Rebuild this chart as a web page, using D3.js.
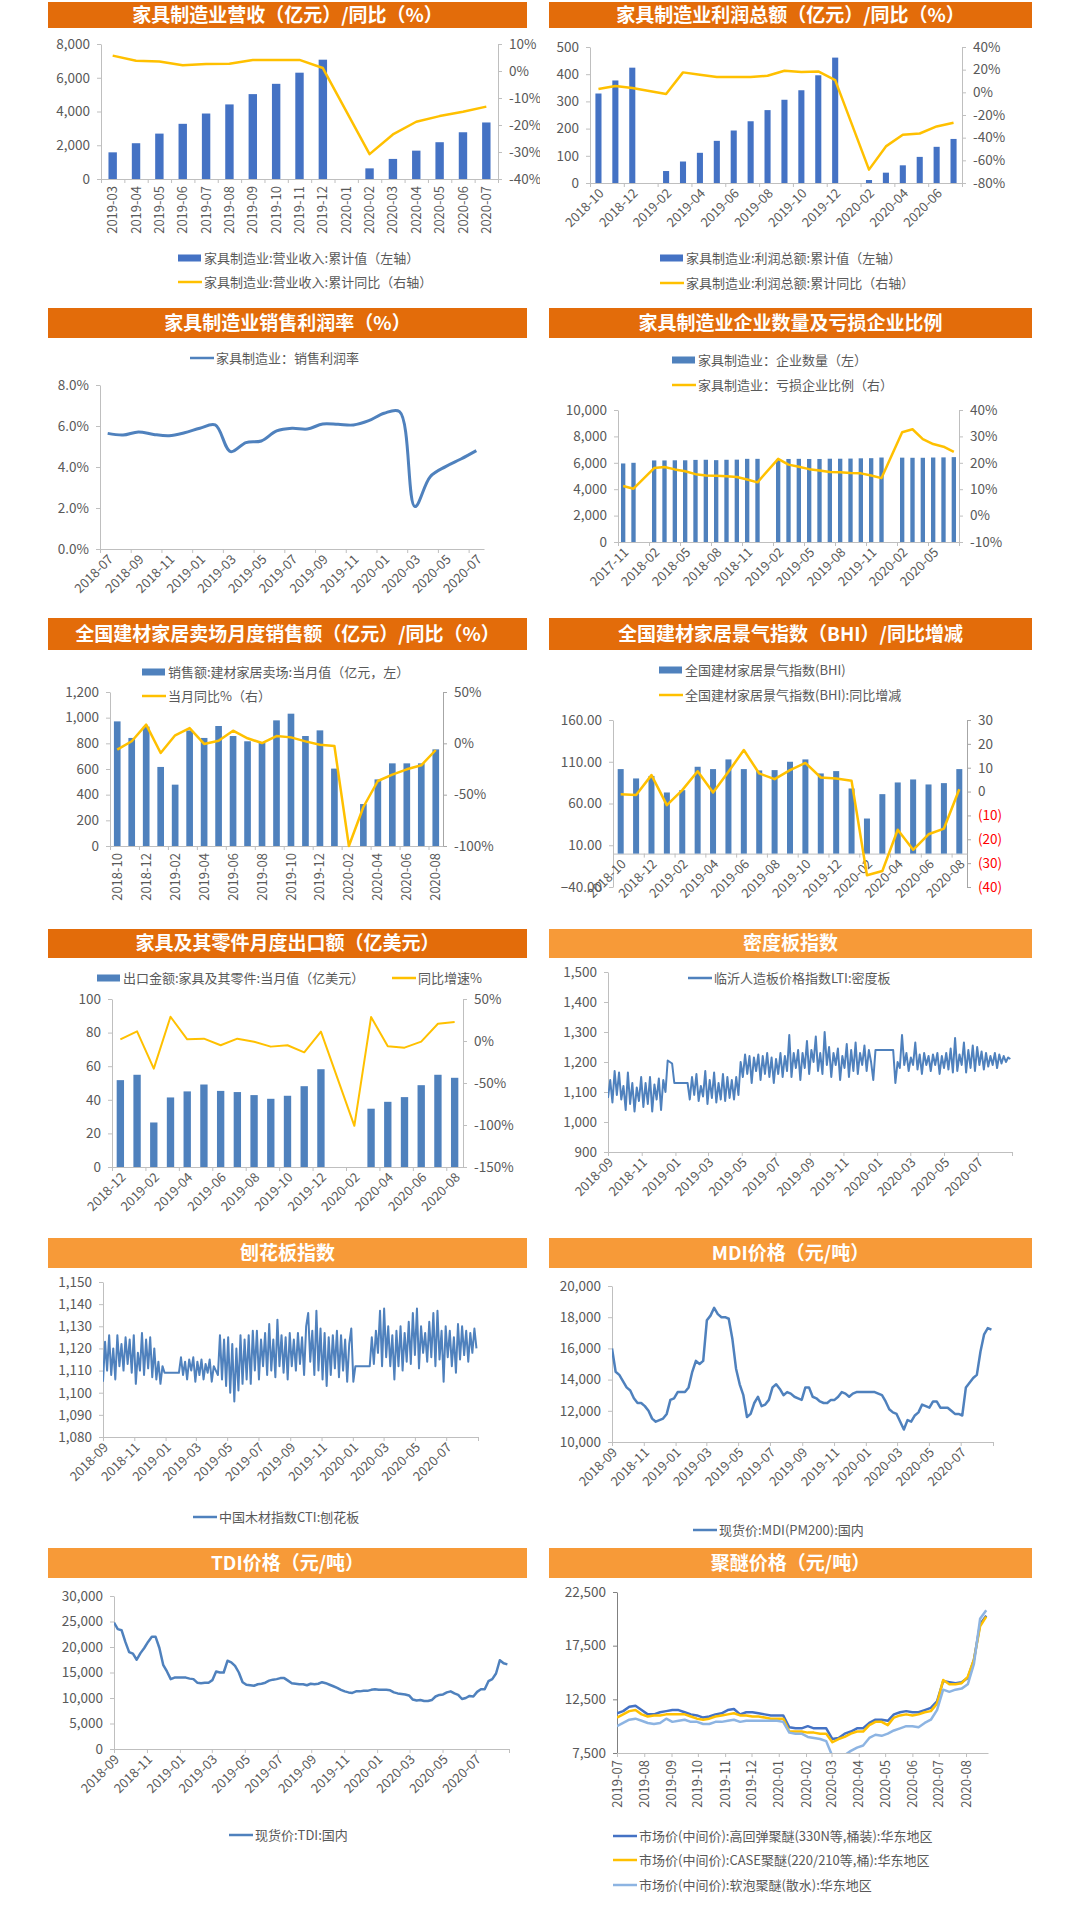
<!DOCTYPE html>
<html>
<head>
<meta charset="utf-8">
<script src="https://cdn.jsdelivr.net/npm/d3@7"></script>
<style>
  body { margin: 0; background: #fff; }
  svg text { font-family: "Noto Sans CJK SC", "Noto Sans", sans-serif; }
</style>
</head>
<body>
<svg id="chart" width="1080" height="1916"></svg>
<script>
// ---------- data ----------
function months(start, n) {
  const d0 = d3.timeParse('%Y-%m')(start);
  return d3.range(n).map(i => d3.timeFormat('%Y-%m')(d3.timeMonth.offset(d0, i)));
}

const revCats = months('2019-03', 17);
const revValue = [1580, 2120, 2690, 3270, 3880, 4420, 5030, 5640, 6300, 7070, null, 630, 1190, 1680, 2180, 2770, 3350];
const revYoY = [5.7, 3.8, 3.5, 2.1, 2.6, 2.7, 4.1, 4.1, 4.1, 1.1, null, -30.8, -23.5, -18.8, -16.7, -15.1, -13.2];

const profCats = months('2018-10', 22);
const profValue = [329, 377, 424, null, 44, 79, 111, 155, 193, 227, 268, 306, 341, 396, 461, null, 11, 38, 65, 96, 133, 162];
const profYoY = [2.9, 5.6, 3.8, null, -1.5, 17.6, 15.5, 13.5, 13.5, 13.5, 14.6, 19, 17.9, 18.4, 10.8, null, -68.2, -47.7, -37.5, -36.3, -30.1, -26.9];

const marginCats = months('2018-07', 25);
const marginRate = [5.64, 5.56, 5.71, 5.59, 5.53, 5.67, 5.89, 6.05, 4.75, 5.19, 5.27, 5.76, 5.89, 5.85, 6.1, 6.08, 6.05, 6.26, 6.62, 6.7, 2.07, 3.53, 4.02, 4.39, 4.8];

const firmCats = months('2017-11', 33);
const firmCount = [5950, 6000, null, 6180, 6180, 6190, 6190, 6220, 6230, 6200, 6230, 6240, 6300, 6300, null,
  6280, 6290, 6300, 6290, 6290, 6310, 6310, 6320, 6340, 6350, 6400, null, 6390, 6380, 6380, 6400, 6410, 6430];
const lossRatio = [11.2, 10.2, null, 18.0, 18.4, 17.5, 16.8, 15.7, 15.2, 15.1, 14.9, 14.6, 13.7, 12.6, null,
  21.5, 19.3, 18.5, 17.6, 17.1, 16.5, 16.4, 16.1, 16.0, 15.2, 14.2, null, 31.6, 32.7, 29.0, 27.1, 26.1, 24.1];

const mallCats = months('2018-10', 23);
const mallSales = [971, 842, 930, 616, 478, 900, 842, 935, 857, 816, 805, 979, 1031, 857, 901, 603, null, 327, 519, 644, 644, 644, 753];
const mallYoY = [-6.2, 2, 18.2, -9.4, 7.8, 14.9, -0.6, 2.6, 12.3, 4.9, 0.3, 7.1, 5.8, 1.9, -1.3, -2.6, -100, -62, -36.7, -30.5, -25.3, -21.4, -6.5];

const bhiCats = months('2018-10', 23);
const bhiIndex = [101.2, 90, 93, 73.2, 76, 104, 101.2, 112.8, 101.2, 99.6, 100, 110, 112.8, 96, 98.8, 78, 42, 71.2, 85.2, 88.8, 82.8, 84.4, 101.2];
const bhiChange = [-1.1, -1.4, 6.9, -5.7, 0.6, 8.5, -0.4, 8.3, 17.4, 7.6, 5.2, 9, 12, 5.9, 5.5, 4.5, -35.1, -33.3, -16, -24.4, -17.9, -15.5, 1];

const exportCats = months('2018-12', 21);
const exportValue = [51.7, 54.9, 26.5, 41.4, 45, 49.1, 45.3, 44.6, 42.8, 40.6, 42.4, 48.1, 58.2, null, null, 34.7, 38.8, 41.6, 48.7, 54.9, 53.1];
const exportYoY = [2, 11.5, -32.9, 28.9, 2, 2.8, -5.1, 2.8, -0.8, -6.7, -5.1, -13.5, 11.1, null, -101, 28.5, -6.3, -7.9, -0.8, 20.6, 22.6];

// board indices, one reading every 4 days from 2018-09-01
const mdfIndex = [
  1080, 1140, 1065, 1170, 1090, 1165, 1075, 1120, 1040, 1165, 1060, 1130, 1035, 1115, 1070, 1150, 1050, 1130, 1060, 1150,
  1035, 1125, 1075, 1145, 1040, 1140, 1100, 1205, 1200, 1195, 1130, 1130, 1130, 1130, 1130, 1130, 1130,
  1075, 1150, 1090, 1160, 1070, 1120, 1085, 1170, 1060, 1140, 1080, 1165, 1065, 1130, 1075, 1160, 1070, 1150, 1080, 1140,
  1075, 1150, 1090,
  1200, 1150, 1225, 1160, 1220, 1130, 1215, 1170, 1225, 1140, 1220, 1160, 1230, 1150, 1215,
  1130, 1210, 1160, 1230, 1150, 1220, 1170, 1290, 1150, 1230, 1180, 1240, 1140, 1230, 1180, 1270, 1160, 1240, 1200, 1285,
  1170, 1230, 1160, 1300, 1190, 1250, 1150, 1230, 1190, 1245, 1140, 1220, 1180, 1260, 1150, 1240, 1170, 1265, 1160, 1230,
  1190, 1255, 1170, 1240, 1200,
  1140, 1240, 1240, 1240, 1240, 1240, 1240, 1240, 1240, 1240, 1130,
  1200, 1180, 1290, 1190, 1230, 1170, 1215, 1190, 1265, 1175, 1225, 1160, 1230, 1190, 1220, 1170, 1225, 1190, 1230, 1160,
  1220, 1180, 1230, 1175, 1245, 1165, 1280, 1170, 1225, 1190, 1265, 1165, 1240, 1180, 1255, 1170, 1250, 1190, 1235, 1175,
  1230, 1185, 1220, 1190, 1230, 1180, 1225, 1195, 1220, 1200, 1215, 1210];
const chipIndex = [
  1105, 1123, 1110, 1126, 1108, 1120, 1106, 1126, 1112, 1122, 1110, 1125, 1113, 1124, 1109, 1126, 1104,
  1118, 1110, 1127, 1108, 1124, 1111, 1125, 1107, 1120,
  1106, 1114, 1104, 1112,
  1109, 1109, 1109, 1109, 1109, 1109, 1109, 1109,
  1116, 1108, 1114, 1106, 1115, 1110, 1116, 1105, 1114, 1108, 1115, 1106, 1113, 1109, 1115, 1105, 1112, 1110, 1108,
  1126, 1106, 1124, 1103, 1125, 1100, 1122, 1096, 1120, 1101, 1126, 1104, 1124, 1106, 1126, 1104, 1128,
  1110, 1128, 1106, 1124, 1112, 1127, 1108, 1131, 1110, 1124, 1107, 1133, 1112, 1126, 1109, 1125, 1106, 1127, 1112, 1124,
  1110, 1127, 1113, 1125, 1108, 1130, 1136, 1114, 1128, 1108, 1137, 1110, 1129, 1106, 1127, 1103, 1125, 1108, 1126, 1111,
  1128, 1107, 1126, 1110, 1124, 1105, 1122, 1129, 1105,
  1112, 1112, 1112, 1112, 1112, 1112, 1112, 1112,
  1125, 1113, 1128, 1118, 1137, 1112, 1138, 1116, 1130, 1112, 1126, 1106, 1128, 1112, 1130, 1110, 1127, 1114, 1132, 1113,
  1136, 1117, 1138, 1111, 1130, 1118, 1127, 1114, 1132, 1116, 1136, 1112, 1137, 1115, 1128, 1105, 1130, 1116, 1128, 1112,
  1125, 1109, 1131, 1115, 1130, 1117, 1128, 1114, 1127, 1118, 1129, 1120];

// weekly prices from 2018-09-01
const mdiPrice = [
  16000, 14500, 14300, 13900, 13500, 13300, 12800, 12500, 12500, 12300, 12000, 11500, 11300, 11400, 11500, 11800, 12700, 12800, 13200, 13200,
  13200, 13500, 14500, 15200, 15000, 15200, 17800, 18100, 18600, 18200, 18000, 18000, 17900, 16600, 14700, 13700, 13000, 11600, 11800, 12500,
  12900, 12300, 12400, 12700, 13500, 13700, 13400, 13000, 13200, 13100, 12900, 12800, 12700, 13500, 13500, 12900, 12800, 12600, 12500, 12500,
  12700, 12700, 12900, 13200, 13100, 12900, 13100, 13200, 13200, 13200, 13200, 13200, 13200, 13100, 13000, 12600, 12100, 11900, 11800, 11300,
  10800, 11400, 11300, 11700, 11900, 12400, 12300, 12200, 12600, 12600, 12200, 12200, 12200, 12000, 11800, 11800, 11700, 13500, 13800, 14100,
  14300, 15800, 16900, 17300, 17200];
const tdiPrice = [
  24800, 23500, 23300, 21000, 19000, 18700, 17500, 18800, 19800, 21000, 22000, 22000, 19800, 16500, 15200, 13700, 14000, 14000, 14000, 14000,
  13800, 13700, 13000, 12900, 13000, 13000, 13500, 15200, 15000, 15000, 17300, 17000, 16300, 15000, 13100, 12600, 12500, 12400, 12700, 12800,
  13000, 13400, 13600, 13700, 13900, 13900, 13400, 12900, 12800, 12700, 12700, 12500, 12800, 12700, 12800, 13100, 12900, 12600, 12300, 12000,
  11600, 11300, 11100, 11000, 11300, 11300, 11400, 11400, 11600, 11700, 11600, 11600, 11600, 11500, 11100, 10900, 10800, 10700, 10500, 9700,
  9500, 9600, 9400, 9400, 9600, 10300, 10600, 10700, 11100, 11300, 10900, 10600, 9800, 10000, 10400, 10300, 11200, 11700, 11700, 13300,
  13700, 14800, 17400, 16800, 16600];

// weekly polyether prices from 2019-07-01
const polyHR = [
  11200, 11400, 11800, 11900, 11500, 11100, 11100, 11300, 11400, 11500, 11500, 11300, 11100, 11000, 10800, 10900, 11100, 11200, 11500, 11600,
  11100, 11300, 11300, 11200, 11100, 11000, 11000, 11000, 9900, 9800, 9800, 10000, 9800, 9800, 9800, 8800, 8900, 9300, 9500, 9800,
  9800, 10300, 10600, 10600, 10500, 11100, 11300, 11400, 11300, 11300, 11500, 11700, 12300, 14200, 14100, 14000, 14100, 14500, 16200, 19500,
  20300];
const polyCASE = [
  10800, 11100, 11400, 11500, 11100, 10900, 11000, 11000, 11100, 11100, 11100, 11100, 10900, 10700, 10600, 10700, 10900, 11000, 11100, 11200,
  11000, 11000, 10900, 10900, 10800, 10700, 10700, 10700, 9500, 9500, 9500, 9400, 9400, 9300, 9300, 8500, 8800, 9000, 9300, 9500,
  9500, 10100, 10400, 10400, 10100, 10800, 11000, 11100, 11000, 11100, 11300, 11400, 12100, 14300, 13900, 13900, 14000, 14600, 16200, 19300,
  20200];
const polySoft = [
  10000, 10300, 10600, 10700, 10500, 10300, 10200, 10300, 10700, 10400, 10500, 10600, 10400, 10400, 10200, 10200, 10400, 10400, 10500, 10600,
  10400, 10500, 10500, 10500, 10500, 10500, 10500, 10400, 9400, 9300, 9300, 9000, 8900, 8800, 8600, 7200, 7200, 7300, 7700, 8000,
  8200, 8900, 9200, 9100, 9300, 9600, 9800, 10000, 10000, 9900, 10300, 10600, 11500, 13400, 13200, 13400, 13500, 13900, 15800, 20000,
  20800];

// ---------- drawing ----------
const BLUE = '#4f81bd', BLUE2 = '#4472c4', GOLD = '#ffc000', SKY = '#8db4e2';
const DARK = '#e36c0a', LIGHT = '#f79a38', TXT = '#595959', AX = '#bfbfbf';
const parseD = d3.timeParse('%Y-%m-%d');
const fmtMonth = d3.timeFormat('%Y-%m');

const root = d3.select('#chart');
const defs = root.append('defs');
defs.append('clipPath').attr('id', 'clipL').append('rect').attr('x', 0).attr('y', 0).attr('width', 540).attr('height', 1916);
const L = root.append('g').attr('clip-path', 'url(#clipL)');
const R = root.append('g');

function titleBar(g, x0, x1, y0, y1, txt, col) {
  g.append('rect').attr('x', x0).attr('y', y0).attr('width', x1 - x0).attr('height', y1 - y0).attr('fill', col);
  g.append('text').attr('x', (x0 + x1) / 2).attr('y', (y0 + y1) / 2).attr('dy', '0.36em').attr('text-anchor', 'middle')
    .attr('fill', '#fff').attr('font-size', 19).attr('font-weight', 700).text(txt);
}

function yAxis(g, y, x, vals, fmt, side, lineCol, txtCol) {
  const ax = (side === 'left' ? d3.axisLeft(y) : d3.axisRight(y))
    .tickValues(vals).tickFormat(fmt).tickSize(4).tickSizeOuter(0).tickPadding(7);
  const a = g.append('g').attr('transform', `translate(${x},0)`).call(ax);
  a.select('.domain').attr('stroke', lineCol || AX);
  a.selectAll('.tick line').attr('stroke', lineCol || AX);
  a.selectAll('.tick text').attr('fill', d => txtCol ? txtCol(d) : TXT).attr('font-size', 13.5)
    .attr('font-family', '"Noto Sans CJK SC", "Noto Sans", sans-serif');
}

function rotLabel(g, x, y, txt, rot) {
  const t = g.append('text').attr('text-anchor', 'end').attr('dy', '0.35em').attr('fill', TXT).attr('font-size', 13).text(txt);
  if (rot === -90) t.attr('transform', `translate(${x},${y + 7}) rotate(-90)`);
  else t.attr('transform', `translate(${x + 3},${y + 8}) rotate(-45)`);
}

function legend(g, x, y, type, color, txt) {
  if (type === 'bar') g.append('rect').attr('x', x).attr('y', y - 3.5).attr('width', 23).attr('height', 7).attr('fill', color);
  else g.append('line').attr('x1', x).attr('x2', x + 24).attr('y1', y).attr('y2', y).attr('stroke', color).attr('stroke-width', 2.5);
  g.append('text').attr('x', x + 26).attr('y', y).attr('dy', '0.35em').attr('fill', TXT).attr('font-size', 13).text(txt);
}

function combo(g, o) {
  const n = o.cats.length;
  const xi = d3.scaleLinear().domain([0, n]).range([o.x0, o.x1]);
  const yL = d3.scaleLinear().domain(o.left.domain).range([o.y1, o.y0]);
  yAxis(g, yL, o.x0, o.left.ticks, o.left.fmt, 'left');
  let yR = null;
  if (o.right) {
    yR = d3.scaleLinear().domain(o.right.domain).range([o.y1, o.y0]);
    yAxis(g, yR, o.x1, o.right.ticks, o.right.fmt, 'right', o.right.lineCol, o.right.txtCol);
  }
  const baseY = yL(o.base || 0 > o.left.domain[0] ? (o.base || 0) : o.left.domain[0]);
  const xa = g.append('g').attr('transform', `translate(0,${baseY})`)
    .call(d3.axisBottom(xi).tickValues(d3.range(0, n + 1, o.every)).tickFormat('').tickSize(4).tickSizeOuter(0));
  xa.select('.domain').attr('stroke', AX);
  xa.selectAll('.tick line').attr('stroke', AX);
  o.cats.forEach((c, i) => { if (i % o.every === 0) rotLabel(g, xi(i + 0.5), baseY, c, o.rot); });

  if (o.bars) {
    const bw = (xi(1) - xi(0)) * o.barRatio;
    g.append('g').selectAll('rect')
      .data(o.bars.map((v, i) => ({ v, i })).filter(d => d.v != null)).join('rect')
      .attr('x', d => xi(d.i + 0.5) - bw / 2).attr('width', bw)
      .attr('y', d => Math.min(yL(d.v), yL(0))).attr('height', d => Math.abs(yL(0) - yL(d.v)))
      .attr('fill', o.barColor);
  }
  if (o.line) {
    const ys = yR || yL;
    const pts = o.line.map((v, i) => ({ v, i })).filter(d => d.v != null);
    g.append('path').datum(pts).attr('fill', 'none').attr('stroke', o.lineColor)
      .attr('stroke-width', o.lineWidth || 2.5).attr('stroke-linejoin', 'round')
      .attr('d', d3.line().x(d => xi(d.i + 0.5)).y(d => ys(d.v)).curve(o.curve || d3.curveLinear));
  }
}

function timePanel(g, o) {
  const x = d3.scaleTime().domain(o.domain).range([o.x0, o.x1]);
  const y = d3.scaleLinear().domain(o.yDomain).range([o.y1, o.y0]);
  yAxis(g, y, o.x0, o.yTicks, d3.format(','), 'left', o.axisCol);
  const xa = g.append('g').attr('transform', `translate(0,${o.y1})`)
    .call(d3.axisBottom(x).tickValues(o.ticks).tickFormat('').tickSize(4).tickSizeOuter(0));
  xa.select('.domain').attr('stroke', AX);
  xa.selectAll('.tick line').attr('stroke', AX);
  o.ticks.forEach((t, i) => { if (!(o.noLast && i === o.ticks.length - 1)) rotLabel(g, x(t), o.y1, fmtMonth(t), o.rot); });

  const cid = 'clip' + o.id;
  defs.append('clipPath').attr('id', cid).append('rect')
    .attr('x', o.x0).attr('y', o.y0 - 10).attr('width', o.x1 - o.x0 + 2).attr('height', o.y1 - o.y0 + 10);
  o.series.forEach(s => {
    g.append('path').datum(s.values).attr('clip-path', `url(#${cid})`)
      .attr('fill', 'none').attr('stroke', s.color).attr('stroke-width', s.width || 2.5).attr('stroke-linejoin', 'round')
      .attr('d', d3.line().x((v, i) => x(d3.timeDay.offset(o.start, i * o.step))).y(v => y(v)));
  });
}

const pct = d => d + '%';
const twoMonths = d3.timeMonth.range(parseD('2018-09-01'), parseD('2020-09-02'), 2);

// 1 营收
titleBar(L, 48, 527, 2, 28, '家具制造业营收（亿元）/同比（%）', DARK);
combo(L, {
  cats: revCats, bars: revValue, line: revYoY, x0: 101, x1: 498, y0: 44, y1: 179,
  left: { domain: [0, 8000], ticks: d3.range(0, 8001, 2000), fmt: d3.format(',') },
  right: { domain: [-40, 10], ticks: d3.range(-40, 11, 10), fmt: pct },
  every: 1, rot: -90, barColor: BLUE2, barRatio: 0.36, lineColor: GOLD
});
legend(L, 178, 258, 'bar', BLUE2, '家具制造业:营业收入:累计值（左轴）');
legend(L, 178, 282, 'line', GOLD, '家具制造业:营业收入:累计同比（右轴）');

// 2 利润总额
titleBar(R, 549, 1032, 2, 28, '家具制造业利润总额（亿元）/同比（%）', DARK);
combo(R, {
  cats: profCats, bars: profValue, line: profYoY, x0: 590, x1: 962, y0: 47, y1: 183,
  left: { domain: [0, 500], ticks: d3.range(0, 501, 100), fmt: d3.format(',') },
  right: { domain: [-80, 40], ticks: d3.range(-80, 41, 20), fmt: pct },
  every: 2, rot: -45, barColor: BLUE2, barRatio: 0.36, lineColor: GOLD
});
legend(R, 660, 258, 'bar', BLUE2, '家具制造业:利润总额:累计值（左轴）');
legend(R, 660, 283, 'line', GOLD, '家具制造业:利润总额:累计同比（右轴）');

// 3 销售利润率
titleBar(L, 48, 527, 308, 338, '家具制造业销售利润率（%）', DARK);
combo(L, {
  cats: marginCats, line: marginRate, x0: 100, x1: 484, y0: 385, y1: 549,
  left: { domain: [0, 8], ticks: [0, 2, 4, 6, 8], fmt: d => d.toFixed(1) + '%' },
  every: 2, rot: -45, lineColor: BLUE, lineWidth: 3, curve: d3.curveCatmullRom
});
legend(L, 190, 358, 'line', BLUE, '家具制造业：销售利润率');

// 4 企业数量
titleBar(R, 549, 1032, 308, 338, '家具制造业企业数量及亏损企业比例', DARK);
combo(R, {
  cats: firmCats, bars: firmCount, line: lossRatio, x0: 618, x1: 959, y0: 410, y1: 542,
  left: { domain: [0, 10000], ticks: d3.range(0, 10001, 2000), fmt: d3.format(',') },
  right: { domain: [-10, 40], ticks: d3.range(-10, 41, 10), fmt: pct },
  every: 3, rot: -45, barColor: BLUE, barRatio: 0.42, lineColor: GOLD
});
legend(R, 672, 360, 'bar', BLUE, '家具制造业：企业数量（左）');
legend(R, 672, 385, 'line', GOLD, '家具制造业：亏损企业比例（右）');

// 5 卖场销售额
titleBar(L, 48, 527, 618, 650, '全国建材家居卖场月度销售额（亿元）/同比（%）', DARK);
combo(L, {
  cats: mallCats, bars: mallSales, line: mallYoY, x0: 110, x1: 443, y0: 692, y1: 846,
  left: { domain: [0, 1200], ticks: d3.range(0, 1201, 200), fmt: d3.format(',') },
  right: { domain: [-100, 50], ticks: [-100, -50, 0, 50], fmt: pct, lineCol: '#a6a6a6' },
  every: 2, rot: -90, barColor: BLUE, barRatio: 0.46, lineColor: GOLD
});
legend(L, 142, 672, 'bar', BLUE, '销售额:建材家居卖场:当月值（亿元，左）');
legend(L, 142, 696, 'line', GOLD, '当月同比%（右）');

// 6 BHI
titleBar(R, 549, 1032, 618, 650, '全国建材家居景气指数（BHI）/同比增减', DARK);
combo(R, {
  cats: bhiCats, bars: bhiIndex, line: bhiChange, x0: 613, x1: 967, y0: 720, y1: 887, base: 0,
  left: { domain: [-40, 160], ticks: [-40, 10, 60, 110, 160], fmt: d3.format('.2f') },
  right: {
    domain: [-40, 30], ticks: d3.range(-40, 31, 10), fmt: d => d < 0 ? `(${-d})` : d,
    lineCol: '#a6a6a6', txtCol: d => d < 0 ? '#ff0000' : TXT
  },
  every: 2, rot: -45, barColor: BLUE, barRatio: 0.39, lineColor: GOLD
});
legend(R, 659, 670, 'bar', BLUE, '全国建材家居景气指数(BHI)');
legend(R, 659, 695, 'line', GOLD, '全国建材家居景气指数(BHI):同比增减');

// 7 出口额
titleBar(L, 48, 527, 929, 958, '家具及其零件月度出口额（亿美元）', DARK);
combo(L, {
  cats: exportCats, bars: exportValue, line: exportYoY, x0: 112, x1: 463, y0: 999, y1: 1167,
  left: { domain: [0, 100], ticks: d3.range(0, 101, 20), fmt: d3.format(',') },
  right: { domain: [-150, 50], ticks: d3.range(-150, 51, 50), fmt: pct },
  every: 2, rot: -45, barColor: BLUE, barRatio: 0.44, lineColor: GOLD, lineWidth: 2
});
legend(L, 97, 978, 'bar', BLUE, '出口金额:家具及其零件:当月值（亿美元）');
legend(L, 392, 978, 'line', GOLD, '同比增速%');

// 8 密度板
titleBar(R, 549, 1032, 929, 958, '密度板指数', LIGHT);
timePanel(R, {
  id: 8, x0: 608, x1: 1012, y0: 972, y1: 1152, domain: [parseD('2018-09-01'), parseD('2020-09-01')],
  yDomain: [900, 1500], yTicks: d3.range(900, 1501, 100), ticks: twoMonths, noLast: true, rot: -45,
  start: parseD('2018-09-01'), step: 4, series: [{ values: mdfIndex, color: BLUE, width: 2 }]
});
legend(R, 688, 978, 'line', BLUE, '临沂人造板价格指数LTI:密度板');

// 9 刨花板
titleBar(L, 48, 527, 1238, 1268, '刨花板指数', LIGHT);
timePanel(L, {
  id: 9, x0: 103, x1: 478, y0: 1282, y1: 1437, domain: [parseD('2018-09-01'), parseD('2020-09-01')],
  yDomain: [1080, 1150], yTicks: d3.range(1080, 1151, 10), ticks: twoMonths, noLast: true, rot: -45,
  start: parseD('2018-09-01'), step: 4, series: [{ values: chipIndex, color: BLUE, width: 2 }]
});
legend(L, 193, 1517, 'line', BLUE, '中国木材指数CTI:刨花板');

// 10 MDI
titleBar(R, 549, 1032, 1238, 1268, 'MDI价格（元/吨）', LIGHT);
timePanel(R, {
  id: 10, x0: 612, x1: 993, y0: 1286, y1: 1442, domain: [parseD('2018-09-01'), parseD('2020-09-01')],
  yDomain: [10000, 20000], yTicks: d3.range(10000, 20001, 2000), ticks: twoMonths, noLast: true, rot: -45,
  start: parseD('2018-09-01'), step: 7, series: [{ values: mdiPrice, color: BLUE }]
});
legend(R, 693, 1530, 'line', BLUE, '现货价:MDI(PM200):国内');

// 11 TDI
titleBar(L, 48, 527, 1548, 1578, 'TDI价格（元/吨）', LIGHT);
timePanel(L, {
  id: 11, x0: 114, x1: 509, y0: 1596, y1: 1749, domain: [parseD('2018-09-01'), parseD('2020-09-01')],
  yDomain: [0, 30000], yTicks: d3.range(0, 30001, 5000), ticks: twoMonths, noLast: true, rot: -45,
  start: parseD('2018-09-01'), step: 7, series: [{ values: tdiPrice, color: BLUE }]
});
legend(L, 229, 1835, 'line', BLUE, '现货价:TDI:国内');

// 12 聚醚
titleBar(R, 549, 1032, 1548, 1578, '聚醚价格（元/吨）', LIGHT);
timePanel(R, {
  id: 12, x0: 617, x1: 988, y0: 1592, y1: 1753, domain: [parseD('2019-07-01'), parseD('2020-08-26')],
  yDomain: [7500, 22500], yTicks: [7500, 12500, 17500, 22500], axisCol: '#808080',
  ticks: d3.timeMonth.range(parseD('2019-07-01'), parseD('2020-08-02')), rot: -90,
  start: parseD('2019-07-01'), step: 7,
  series: [{ values: polyHR, color: BLUE2 }, { values: polyCASE, color: GOLD }, { values: polySoft, color: SKY }]
});
legend(R, 613, 1836, 'line', BLUE2, '市场价(中间价):高回弹聚醚(330N等,桶装):华东地区');
legend(R, 613, 1860, 'line', GOLD, '市场价(中间价):CASE聚醚(220/210等,桶):华东地区');
legend(R, 613, 1885, 'line', SKY, '市场价(中间价):软泡聚醚(散水):华东地区');
</script>
</body>
</html>
